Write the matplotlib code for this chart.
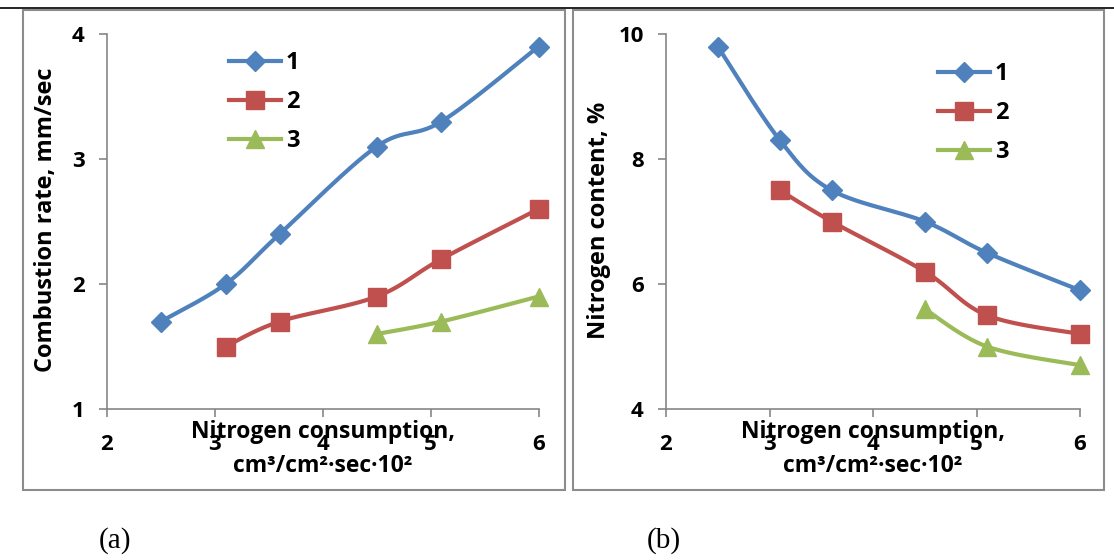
"""
Two-panel line chart: combustion rate and nitrogen content vs nitrogen consumption.
"""

import matplotlib
import matplotlib.pyplot as plt
import numpy as np
from matplotlib.lines import Line2D
from matplotlib.patches import Rectangle

matplotlib.use("Agg")

plt.rcParams["font.family"] = ["Open Sans", "DejaVu Sans"]
plt.rcParams["font.weight"] = "bold"

BLUE = "#4F81BD"
RED = "#C0504D"
GREEN = "#9BBB59"
AXIS_GREY = "#868686"

SERIES_LABELS = ["1", "2", "3"]
X_TICKS = [2, 3, 4, 5, 6]

# ---------------------------------------------------------------------------
# Panel (a): combustion rate, mm/sec
# ---------------------------------------------------------------------------
rate_x1 = [2.5, 3.1, 3.6, 4.5, 5.1, 6.0]
rate_y1 = [1.7, 2.0, 2.4, 3.1, 3.3, 3.9]
rate_x2 = [3.1, 3.6, 4.5, 5.1, 6.0]
rate_y2 = [1.5, 1.7, 1.9, 2.2, 2.6]
rate_x3 = [4.5, 5.1, 6.0]
rate_y3 = [1.6, 1.7, 1.9]
rate_yticks = [1, 2, 3, 4]

# ---------------------------------------------------------------------------
# Panel (b): nitrogen content, %
# ---------------------------------------------------------------------------
nitro_x1 = [2.5, 3.1, 3.6, 4.5, 5.1, 6.0]
nitro_y1 = [9.8, 8.3, 7.5, 7.0, 6.5, 5.9]
nitro_x2 = [3.1, 3.6, 4.5, 5.1, 6.0]
nitro_y2 = [7.5, 7.0, 6.2, 5.5, 5.2]
nitro_x3 = [4.5, 5.1, 6.0]
nitro_y3 = [5.6, 5.0, 4.7]
nitro_yticks = [4, 6, 8, 10]

STYLES = [(BLUE, "D", 10.5), (RED, "s", 12.5), (GREEN, "^", 12.5)]


def smooth(xs, ys, steps=30):
    """Catmull-Rom curve through the points (like Excel's smoothed line)."""
    p = np.column_stack([xs, ys]).astype(float)
    p = np.vstack([p[0], p, p[-1]])
    out = []
    t = np.linspace(0, 1, steps)[:, None]
    for i in range(1, len(p) - 2):
        p0, p1, p2, p3 = p[i - 1], p[i], p[i + 1], p[i + 2]
        seg = 0.5 * (
            2 * p1
            + (-p0 + p2) * t
            + (2 * p0 - 5 * p1 + 4 * p2 - p3) * t**2
            + (-p0 + 3 * p1 - 3 * p2 + p3) * t**3
        )
        out.append(seg)
    seg = np.vstack(out)
    return seg[:, 0], seg[:, 1]


def draw_panel(ax, series, yticks, ylabel, ylabel_x, legend_anchor):
    for (xs, ys), (colour, marker, ms) in zip(series, STYLES):
        sx, sy = smooth(xs, ys)
        ax.plot(sx, sy, color=colour, lw=3, solid_capstyle="round", zorder=2)
        ax.plot(xs, ys, linestyle="none", marker=marker, ms=ms,
                color=colour, mec=colour, zorder=3, clip_on=False)

    ax.set_xlim(X_TICKS[0], X_TICKS[-1])
    ax.set_ylim(yticks[0], yticks[-1])
    ax.set_xticks(X_TICKS)
    ax.set_yticks(yticks)
    for side in ("top", "right"):
        ax.spines[side].set_visible(False)
    for side in ("left", "bottom"):
        ax.spines[side].set_color(AXIS_GREY)
        ax.spines[side].set_linewidth(1.2)
    ax.tick_params(axis="both", direction="out", length=6, width=1.2,
                   color=AXIS_GREY, labelsize=16)
    ax.tick_params(axis="x", pad=12)
    ax.tick_params(axis="y", pad=10)
    for lab in ax.get_xticklabels() + ax.get_yticklabels():
        lab.set_fontweight("bold")

    ax.set_ylabel(ylabel, fontsize=17, fontweight="bold")
    ax.yaxis.set_label_coords(ylabel_x, 0.504)

    ax.text(0.5, -0.061, "Nitrogen consumption,", transform=ax.transAxes,
            ha="center", va="center", fontsize=16.5, fontweight="bold")
    ax.text(0.5, -0.152, "cm\u00b3/cm\u00b2\u00b7sec\u00b710\u00b2", transform=ax.transAxes,
            ha="center", va="center", fontsize=16.5, fontweight="bold")

    handles = [
        Line2D([], [], color=c, lw=3, marker=m, ms=ms, mec=c)
        for c, m, ms in STYLES
    ]
    ax.legend(handles, SERIES_LABELS, loc="upper left", bbox_to_anchor=legend_anchor,
              frameon=False, handlelength=2.2, handletextpad=0.2,
              labelspacing=0.64, borderpad=0, borderaxespad=0,
              prop={"weight": "bold", "size": 17})


W, H = 1114, 560
fig = plt.figure(figsize=(W / 100, H / 100), dpi=100)

# page border line and panel frames
fig.add_artist(Line2D([0, 1], [1 - 8 / H, 1 - 8 / H], color="black", lw=1.2,
                      transform=fig.transFigure))
for x0, x1 in [(23, 565), (573, 1104)]:
    fig.add_artist(Rectangle((x0 / W, 1 - 490 / H), (x1 - x0) / W, 480 / H,
                             transform=fig.transFigure, fill=False,
                             edgecolor="#8C8C8C", lw=1.5))

ax_a = fig.add_axes([107 / W, 1 - 409 / H, 431.6 / W, 375 / H])
ax_b = fig.add_axes([666 / W, 1 - 409 / H, 414 / W, 375 / H])

draw_panel(ax_a,
           [(rate_x1, rate_y1), (rate_x2, rate_y2), (rate_x3, rate_y3)],
           rate_yticks, "Combustion rate, mm/sec", -0.114, (0.283, 0.955))
draw_panel(ax_b,
           [(nitro_x1, nitro_y1), (nitro_x2, nitro_y2), (nitro_x3, nitro_y3)],
           nitro_yticks, "Nitrogen content, %", -0.133, (0.657, 0.925))

fig.text(115 / W, 1 - 541 / H, "(a)", ha="center", va="center",
         fontsize=21, family="Liberation Serif", fontweight="normal")
fig.text(664 / W, 1 - 541 / H, "(b)", ha="center", va="center",
         fontsize=21, family="Liberation Serif", fontweight="normal")

fig.savefig("out.png", dpi=100)
plt.close(fig)
